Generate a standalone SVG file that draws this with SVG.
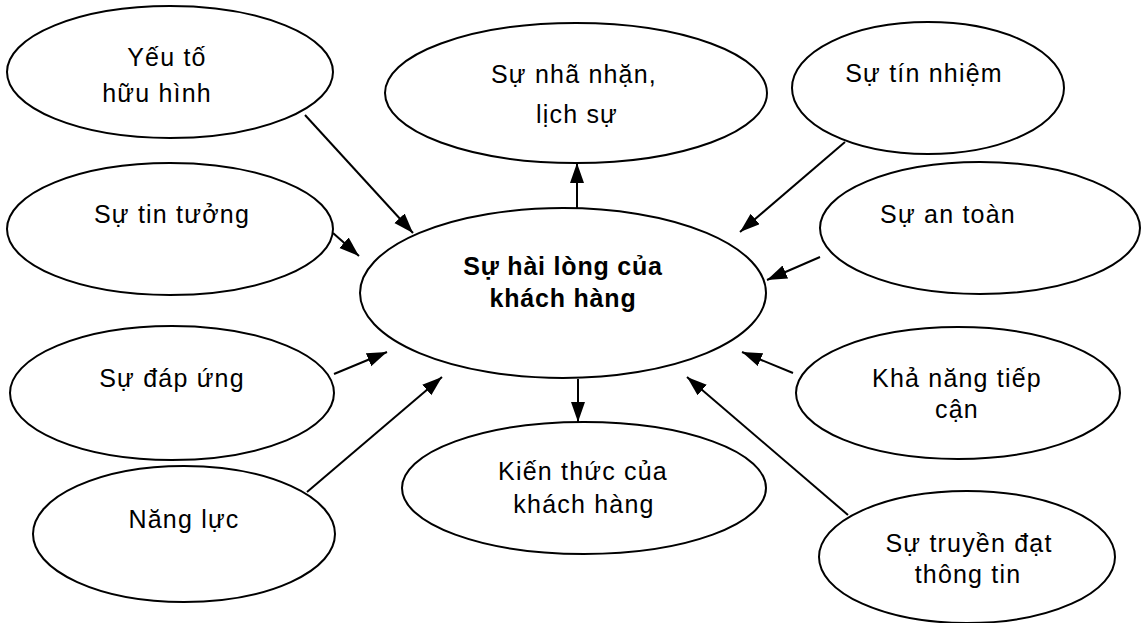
<svg xmlns="http://www.w3.org/2000/svg" width="1141" height="623" viewBox="0 0 1141 623">
<style>
.n ellipse{fill:#fff;stroke:#000;stroke-width:2}
.t{font-family:"Liberation Sans",Arial,sans-serif;font-size:25px;letter-spacing:1.2px;text-anchor:middle;fill:#000}
.b{font-weight:bold;letter-spacing:0.8px}
.c line{stroke:#000;stroke-width:2;marker-end:url(#ah)}
</style>
<defs>
<marker id="ah" markerUnits="userSpaceOnUse" markerWidth="22" markerHeight="16" refX="20" refY="7" orient="auto">
<path d="M0,0 L20,7 L0,14 Z" fill="#000"/>
</marker>
</defs>
<rect width="1141" height="623" fill="#fff"/>
<g class="c" id="connectors">
<line x1="305" y1="115" x2="413" y2="233"/>
<line x1="333" y1="233" x2="359" y2="256"/>
<line x1="334" y1="374" x2="387" y2="352"/>
<line x1="307" y1="492" x2="442" y2="377"/>
<line x1="845" y1="142" x2="740" y2="232"/>
<line x1="820" y1="257" x2="767" y2="280"/>
<line x1="793" y1="373" x2="742" y2="352"/>
<line x1="848" y1="515" x2="687" y2="377"/>
<line x1="577" y1="209" x2="577" y2="163"/>
<line x1="578" y1="379" x2="578" y2="422"/>
</g>
<g class="n" id="n-center"><ellipse cx="563" cy="293" rx="203" ry="85"/>
<text class="t b" x="563" y="275">Sự hài lòng của</text><text class="t b" x="563" y="307">khách hàng</text></g>
<g class="n" id="n-huuhinh"><ellipse cx="170" cy="72" rx="163" ry="66"/>
<text class="t" x="167" y="66">Yếu tố</text><text class="t" x="157" y="102">hữu hình</text></g>
<g class="n" id="n-tintuong"><ellipse cx="170" cy="229" rx="163" ry="66"/>
<text class="t" x="172" y="223">Sự tin tưởng</text></g>
<g class="n" id="n-dapung"><ellipse cx="172" cy="393" rx="162" ry="67"/>
<text class="t" x="172" y="387">Sự đáp ứng</text></g>
<g class="n" id="n-nangluc"><ellipse cx="184" cy="534" rx="151" ry="68"/>
<text class="t" x="184" y="528">Năng lực</text></g>
<g class="n" id="n-nhanhan"><ellipse cx="576" cy="93" rx="191" ry="70"/>
<text class="t" x="574" y="83">Sự nhã nhặn,</text><text class="t" x="577" y="123">lịch sự</text></g>
<g class="n" id="n-tinnhiem"><ellipse cx="928" cy="88" rx="136" ry="66"/>
<text class="t" x="924" y="82">Sự tín nhiệm</text></g>
<g class="n" id="n-antoan"><ellipse cx="980" cy="228" rx="160" ry="66"/>
<text class="t" x="948" y="223">Sự an toàn</text></g>
<g class="n" id="n-tiepcan"><ellipse cx="958" cy="393" rx="162" ry="66"/>
<text class="t" x="957" y="387">Khả năng tiếp</text><text class="t" x="957" y="418">cận</text></g>
<g class="n" id="n-truyendat"><ellipse cx="967" cy="557" rx="148" ry="66"/>
<text class="t" x="969" y="552">Sự truyền đạt</text><text class="t" x="968" y="583">thông tin</text></g>
<g class="n" id="n-kienthuc"><ellipse cx="584" cy="488" rx="182" ry="66"/>
<text class="t" x="583" y="480">Kiến thức của</text><text class="t" x="584" y="513">khách hàng</text></g>
</svg>
